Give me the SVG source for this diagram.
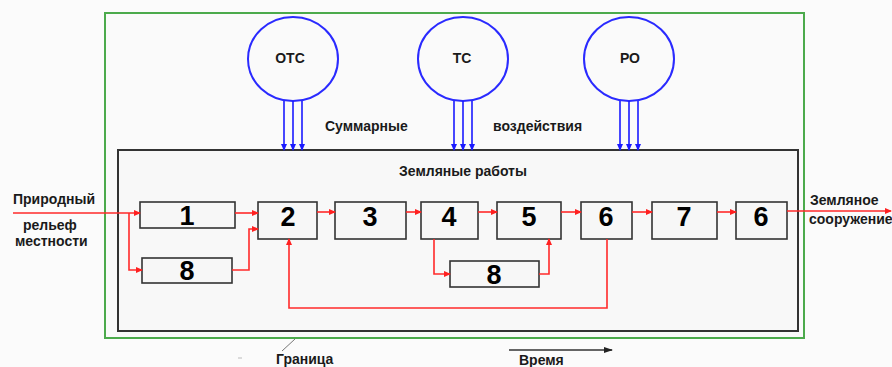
<svg xmlns="http://www.w3.org/2000/svg" width="892" height="367" viewBox="0 0 892 367">
<defs>
<style>
.lbl{font-family:"Liberation Sans",Arial,sans-serif;font-weight:bold;font-size:14px;fill:#1a1a1a}
.dig{font-family:"Liberation Sans",Arial,sans-serif;font-weight:bold;font-size:27px;fill:#000;text-anchor:middle}
.box{fill:#f7f7f7;stroke:#333;stroke-width:1.6}
.circ{fill:none;stroke:#2a2aff;stroke-width:2}
.red{fill:none;stroke:#ff2a2a;stroke-width:1.6}
.blue{fill:none;stroke:#1a1aff;stroke-width:1.6}
</style>
<marker id="ar" markerWidth="7" markerHeight="6" refX="6" refY="3" orient="auto" markerUnits="userSpaceOnUse">
<path d="M0,0 L7,3 L0,6 Z" fill="#ff2020"/>
</marker>
<marker id="ab" markerWidth="7" markerHeight="6" refX="6" refY="3" orient="auto" markerUnits="userSpaceOnUse">
<path d="M0,0 L7,3 L0,6 Z" fill="#1a1aff"/>
</marker>
<marker id="ak" markerWidth="9" markerHeight="6" refX="8" refY="3" orient="auto" markerUnits="userSpaceOnUse">
<path d="M0,0 L9,3 L0,6 Z" fill="#222"/>
</marker>
</defs>
<rect x="0" y="0" width="892" height="367" fill="#fbfbfb"/>
<g id="boundary">
<rect x="105" y="13" width="699" height="325" fill="#fafafa" stroke="#4caa4c" stroke-width="2"/>
</g>
<g id="earthworks">
<rect x="118" y="150" width="680" height="181" fill="#f8f8f8" stroke="#333" stroke-width="2"/>
<text class="lbl" x="463" y="176" text-anchor="middle">Земляные работы</text>
</g>
<g id="otc"><ellipse class="circ" cx="293" cy="59" rx="45" ry="42"/><text class="lbl" x="290" y="63" text-anchor="middle">ОТС</text></g>
<g id="tc"><ellipse class="circ" cx="463" cy="59" rx="45" ry="42"/><text class="lbl" x="462" y="63" text-anchor="middle">ТС</text></g>
<g id="ro"><ellipse class="circ" cx="629" cy="59" rx="45" ry="42"/><text class="lbl" x="630" y="63" text-anchor="middle">РО</text></g>
<g id="n1"><rect class="box" x="140" y="202" width="95" height="26"/><text class="dig" x="187" y="225">1</text></g>
<g id="n2"><rect class="box" x="258" y="202" width="59" height="37"/><text class="dig" x="288" y="226">2</text></g>
<g id="n3"><rect class="box" x="335" y="202" width="71" height="37"/><text class="dig" x="370" y="226">3</text></g>
<g id="n4"><rect class="box" x="421" y="202" width="57" height="37"/><text class="dig" x="449" y="226">4</text></g>
<g id="n5"><rect class="box" x="497" y="202" width="64" height="37"/><text class="dig" x="529" y="226">5</text></g>
<g id="n6"><rect class="box" x="581" y="202" width="51" height="37"/><text class="dig" x="606" y="226">6</text></g>
<g id="n7"><rect class="box" x="652" y="202" width="65" height="37"/><text class="dig" x="684" y="226">7</text></g>
<g id="n6b"><rect class="box" x="736" y="202" width="51" height="37"/><text class="dig" x="761" y="226">6</text></g>
<g id="n8a"><rect class="box" x="142" y="258" width="90" height="25"/><text class="dig" x="187" y="280">8</text></g>
<g id="n8b"><rect class="box" x="450" y="261" width="89" height="26"/><text class="dig" x="494" y="284">8</text></g>
<g id="connectors">
<path class="blue" d="M284,101 V150" marker-end="url(#ab)"/>
<path class="blue" d="M293,101 V150" marker-end="url(#ab)"/>
<path class="blue" d="M302,101 V150" marker-end="url(#ab)"/>
<path class="blue" d="M454,101 V150" marker-end="url(#ab)"/>
<path class="blue" d="M463,101 V150" marker-end="url(#ab)"/>
<path class="blue" d="M472,101 V150" marker-end="url(#ab)"/>
<path class="blue" d="M620,101 V150" marker-end="url(#ab)"/>
<path class="blue" d="M629,101 V150" marker-end="url(#ab)"/>
<path class="blue" d="M638,101 V150" marker-end="url(#ab)"/>
<path class="red" d="M13,213 H140" marker-end="url(#ar)"/>
<path class="red" d="M129,213 V270 H142" marker-end="url(#ar)"/>
<path class="red" d="M235,213 H258" marker-end="url(#ar)"/>
<path class="red" d="M232,270 H249 V229 H258" marker-end="url(#ar)"/>
<path class="red" d="M317,212 H335" marker-end="url(#ar)"/>
<path class="red" d="M406,212 H421" marker-end="url(#ar)"/>
<path class="red" d="M478,212 H497" marker-end="url(#ar)"/>
<path class="red" d="M561,212 H581" marker-end="url(#ar)"/>
<path class="red" d="M632,212 H652" marker-end="url(#ar)"/>
<path class="red" d="M717,212 H736" marker-end="url(#ar)"/>
<path class="red" d="M787,211 H891" marker-end="url(#ar)"/>
<path class="red" d="M434,239 V274 H450" marker-end="url(#ar)"/>
<path class="red" d="M539,274 H549 V239" marker-end="url(#ar)"/>
<path class="red" d="M607,239 V308 H289 V239" marker-end="url(#ar)"/>
<path d="M282,351 L295,339" stroke="#777" stroke-width="1" fill="none"/>
<path d="M509,350 H612" stroke="#333" stroke-width="1.5" fill="none" marker-end="url(#ak)"/>
<path d="M238,358 H242" stroke="#bbb" stroke-width="1"/>
</g>
<g id="labels">
<text class="lbl" x="325" y="131">Суммарные</text>
<text class="lbl" x="493" y="131">воздействия</text>
<text class="lbl" x="13" y="204">Природный</text>
<text class="lbl" x="23" y="230">рельеф</text>
<text class="lbl" x="15" y="246">местности</text>
<text class="lbl" x="810" y="205">Земляное</text>
<text class="lbl" x="809" y="224">сооружение</text>
<text class="lbl" x="276" y="364">Граница</text>
<text class="lbl" x="519" y="365">Время</text>
</g>
</svg>
